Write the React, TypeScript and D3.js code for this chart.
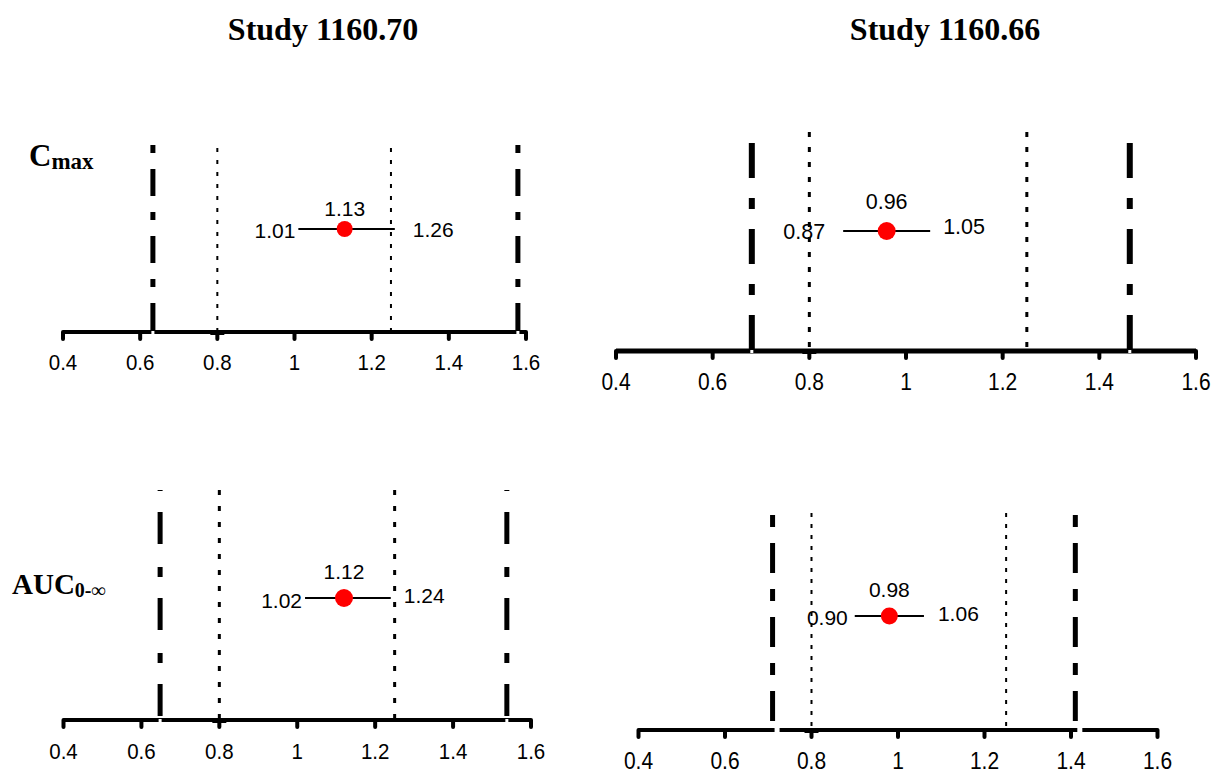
import React from "react";
import * as d3 from "d3";

// ---------- data ----------
const studies = ["Study 1160.70", "Study 1160.66"];
const metrics = ["Cmax", "AUC0-∞"];
const pointEstimates = [1.13, 0.96, 1.12, 0.98]; // TL, TR, BL, BR
const lowerCI = [1.01, 0.87, 1.02, 0.9];
const upperCI = [1.26, 1.05, 1.24, 1.06];
const lowerCILabels = ["1.01", "0.87", "1.02", "0.90"];
const upperCILabels = ["1.26", "1.05", "1.24", "1.06"];
const pointLabels = ["1.13", "0.96", "1.12", "0.98"];
const bioLimits = [0.8, 1.25];
const wideLower = [0.633, 0.681, 0.648, 0.71];
const wideUpper = [1.579, 1.463, 1.538, 1.41];
const xTicks = [0.4, 0.6, 0.8, 1, 1.2, 1.4, 1.6];
const xTickLabels = ["0.4", "0.6", "0.8", "1", "1.2", "1.4", "1.6"];
const xDomain: [number, number] = [0.4, 1.6];

// ---------- layout ----------
type Layout = {
  x0: number; x1: number; axisY: number; dashTop: number; dotTop: number; pointY: number;
  r: number; tickFont: number; tickLabelY: number; valFont: number;
  pLabelY: number; lLabelY: number; uLabelY: number; lGap: number; uGap: number;
  dd: string; ddOff: number; ddW: number; dot: string; dotW: number; axisW: number; gapAxis: boolean;
};
const layouts: Layout[] = [
  { x0: 63, x1: 526, axisY: 332, dashTop: 145, dotTop: 148, pointY: 229, r: 8, tickFont: 20.5, tickLabelY: 363,
    valFont: 21, pLabelY: 208, lLabelY: 230, uLabelY: 229, lGap: 3, uGap: 18,
    dd: "8,16,27,16", ddOff: 0, ddW: 5, dot: "4,8", dotW: 2, axisW: 4, gapAxis: false },
  { x0: 616, x1: 1196, axisY: 351, dashTop: 143, dotTop: 132, pointY: 231, r: 9, tickFont: 21, tickLabelY: 382,
    valFont: 21.5, pLabelY: 202, lLabelY: 232, uLabelY: 227, lGap: 18, uGap: 13,
    dd: "35,20,11,20", ddOff: 0, ddW: 6, dot: "5,10", dotW: 3, axisW: 5, gapAxis: false },
  { x0: 63.5, x1: 531, axisY: 720, dashTop: 490, dotTop: 490, pointY: 598, r: 9, tickFont: 20.5, tickLabelY: 752,
    valFont: 21, pLabelY: 571, lLabelY: 600, uLabelY: 595, lGap: 3, uGap: 13,
    dd: "32,23,10,21", ddOff: 64, ddW: 5, dot: "5,11", dotW: 3, axisW: 4, gapAxis: false },
  { x0: 638.5, x1: 1157.5, axisY: 730, dashTop: 515, dotTop: 513, pointY: 616, r: 8.5, tickFont: 21, tickLabelY: 761,
    valFont: 21, pLabelY: 589, lLabelY: 617, uLabelY: 613, lGap: 7, uGap: 14,
    dd: "12,16,30,16", ddOff: 0, ddW: 5, dot: "4,7", dotW: 2, axisW: 4, gapAxis: true },
];

function Panel({ i }: { i: number }) {
  const L = layouts[i];
  const x = d3.scaleLinear().domain(xDomain).range([L.x0, L.x1]);
  const sans = "'Liberation Sans', Arial, sans-serif";
  const wl = [wideLower[i], wideUpper[i]];
  return (
    <g>
      {wl.map((v, k) => (
        <line key={"w" + k} x1={x(v)} x2={x(v)} y1={L.dashTop} y2={L.axisY}
          stroke="#000" strokeWidth={L.ddW} strokeDasharray={L.dd} strokeDashoffset={L.ddOff} />
      ))}
      {bioLimits.map((v, k) => (
        <line key={"b" + k} x1={x(v)} x2={x(v)} y1={L.dotTop} y2={L.axisY}
          stroke="#000" strokeWidth={L.dotW} strokeDasharray={L.dot} />
      ))}
      <line x1={x(xDomain[0])} x2={x(xDomain[1])} y1={L.axisY} y2={L.axisY} stroke="#000" strokeWidth={L.axisW} />
      {xTicks.map((t, k) => (
        <g key={"t" + k}>
          <line x1={x(t)} x2={x(t)} y1={L.axisY} y2={L.axisY + 7} stroke="#000" strokeWidth={4} strokeLinecap="round" />
          <text transform={`translate(${x(t)},${L.tickLabelY}) scale(1,1.1)`} textAnchor="middle" dominantBaseline="central"
            fontFamily={sans} fontSize={L.tickFont} fill="#000">{xTickLabels[k]}</text>
        </g>
      ))}
      <rect x={x(0.8) - 7} y={L.axisY - 2} width={14} height={5} fill="#000" />
      {wl.map((v, k) =>
        L.gapAxis ? (
          <rect key={"g" + k} x={x(v) + 2} y={L.axisY - 4} width={5} height={8} fill="#fff" />
        ) : (
          <rect key={"g" + k} x={x(v) - 1.5} y={L.axisY - 1} width={3} height={3} fill="#fff" />
        )
      )}
      <line x1={x(lowerCI[i])} x2={x(upperCI[i])} y1={L.pointY} y2={L.pointY} stroke="#000" strokeWidth={2} />
      <circle cx={x(pointEstimates[i])} cy={L.pointY} r={L.r} fill="#ff0000" />
      <text x={x(pointEstimates[i])} y={L.pLabelY} textAnchor="middle" dominantBaseline="central"
        fontFamily={sans} fontSize={L.valFont}>{pointLabels[i]}</text>
      <text x={x(lowerCI[i]) - L.lGap} y={L.lLabelY} textAnchor="end" dominantBaseline="central"
        fontFamily={sans} fontSize={L.valFont}>{lowerCILabels[i]}</text>
      <text x={x(upperCI[i]) + L.uGap} y={L.uLabelY} textAnchor="start" dominantBaseline="central"
        fontFamily={sans} fontSize={L.valFont}>{upperCILabels[i]}</text>
    </g>
  );
}

export default function App() {
  const serif = "'Liberation Serif', 'Times New Roman', serif";
  return (
    <svg width={1212} height={773} style={{ position: "absolute", left: 0, top: 0, background: "#fff" }}>
      <rect width={1212} height={773} fill="#fff" />
      <text x={323} y={40} textAnchor="middle" fontFamily={serif} fontWeight="bold" fontSize={32}>{studies[0]}</text>
      <text x={945} y={40} textAnchor="middle" fontFamily={serif} fontWeight="bold" fontSize={32}>{studies[1]}</text>
      <text x={29} y={166} fontFamily={serif} fontWeight="bold" fontSize={31}>
        {metrics[0].slice(0, 1)}
        <tspan fontSize={23} dy={3}>{metrics[0].slice(1)}</tspan>
      </text>
      <text x={12} y={594} fontFamily={serif} fontWeight="bold" fontSize={29}>
        {metrics[1].slice(0, 3)}
        <tspan fontSize={20} dy={3}>{metrics[1].slice(3)}</tspan>
      </text>
      {[0, 1, 2, 3].map((i) => <Panel key={i} i={i} />)}
    </svg>
  );
}
